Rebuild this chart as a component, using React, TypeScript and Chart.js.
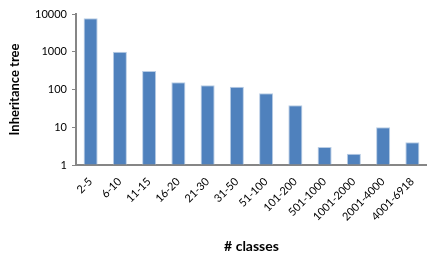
import React, { useEffect, useRef } from "react";
import { Chart, registerables } from "chart.js";
Chart.register(...registerables);

const categories = ["2-5", "6-10", "11-15", "16-20", "21-30", "31-50", "51-100", "101-200", "501-1000", "1001-2000", "2001-4000", "4001-6918"];
const counts = [7700, 1000, 310, 155, 130, 118, 79, 38, 3, 2, 10, 4];
const yTicks = [1, 10, 100, 1000, 10000];
const yTitle = "Inheritance tree";
const xTitle = "# classes";

export default function App() {
  const ref = useRef<HTMLCanvasElement>(null);
  useEffect(() => {
    if (!ref.current) return;
    const font = "Lato, 'Liberation Sans', sans-serif";
    const chart = new Chart(ref.current, {
      type: "bar",
      data: {
        labels: categories,
        datasets: [{
          data: counts,
          backgroundColor: "#4F81BD",
          borderColor: "#B9CDE5",
          borderWidth: { top: 1, left: 1, right: 1, bottom: 0 },
          categoryPercentage: 1,
          barPercentage: 0.48,
          base: 1,
        }],
      },
      options: {
        animation: false,
        responsive: false,
        maintainAspectRatio: false,
        layout: { padding: { top: 14, right: 0, left: 0, bottom: 0 } },
        plugins: { legend: { display: false }, tooltip: { enabled: false } },
        scales: {
          x: {
            grid: { display: false },
            border: { color: "#868686", width: 2 },
            ticks: { maxRotation: 45, minRotation: 45, color: "#000", font: { family: font, size: 11 }, padding: 2 },
            title: { display: true, text: xTitle, color: "#000", font: { family: font, size: 14, weight: "bold" }, padding: { top: 0, bottom: 6 } },
            afterFit: (s: any) => { s.height = 96; },
          },
          y: {
            type: "logarithmic",
            min: 1,
            max: 10000,
            afterBuildTicks: (s: any) => { s.ticks = yTicks.map((v) => ({ value: v })); },
            ticks: { color: "#000", font: { family: font, size: 11 }, padding: 5, callback: (v: any) => String(v) },
            grid: { drawOnChartArea: false, drawTicks: true, tickLength: 4, color: "#868686", lineWidth: 1 },
            border: { color: "#868686", width: 2 },
            title: { display: true, text: yTitle, color: "#000", font: { family: font, size: 13, weight: "bold" }, padding: { top: 7, bottom: 8 } },
            afterFit: (s: any) => { s.width = 76; },
          },
        },
      },
    });
    return () => chart.destroy();
  }, []);
  return (
    <div style={{ position: "fixed", left: 0, top: 0, width: 427, height: 261, background: "#fff" }}>
      <canvas ref={ref} width={427} height={261} style={{ width: 427, height: 261 }} />
    </div>
  );
}
